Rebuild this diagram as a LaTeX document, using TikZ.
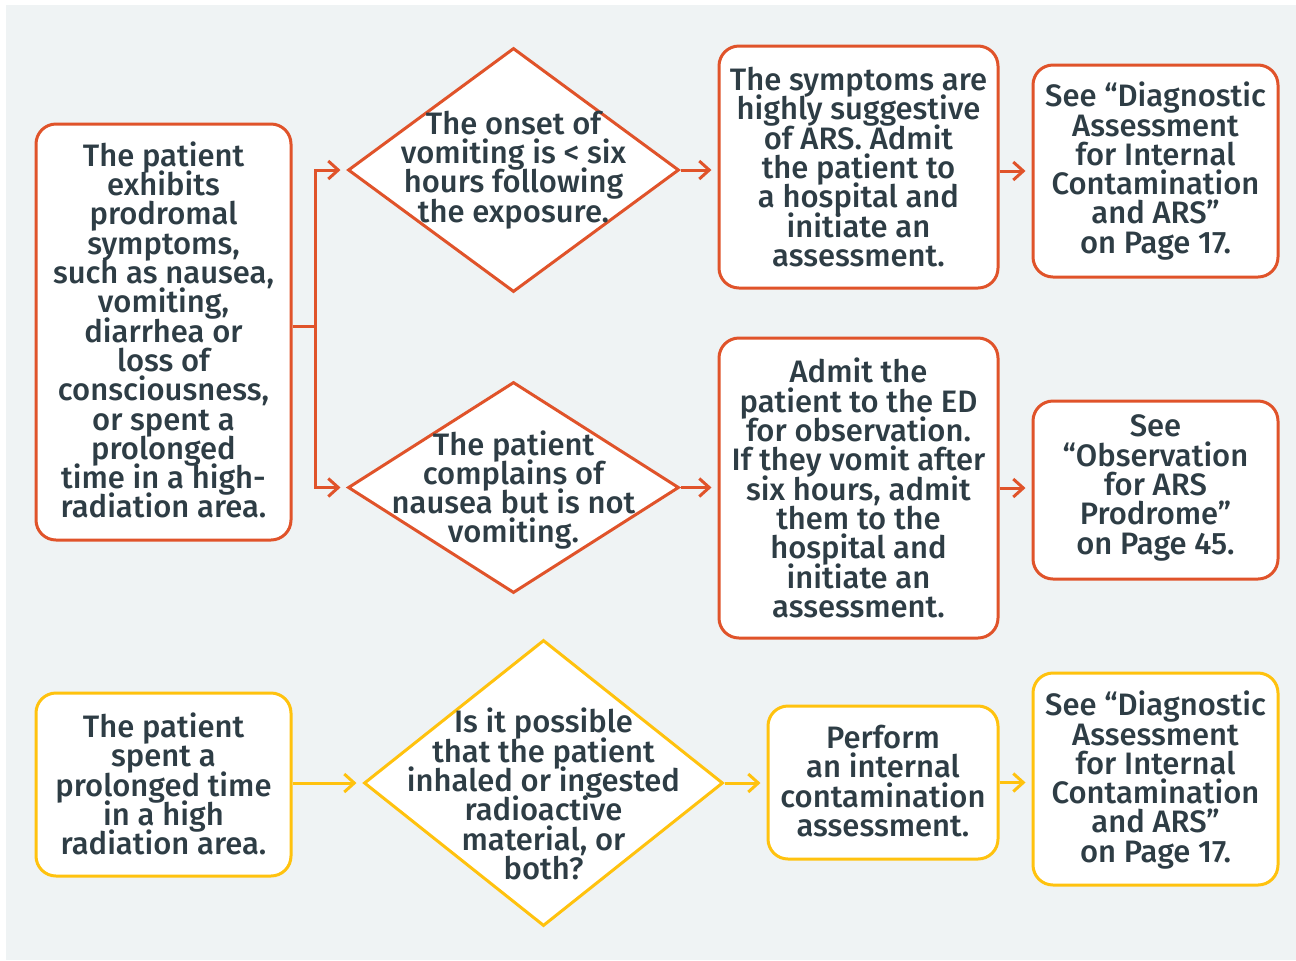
\documentclass[tikz,border=0pt]{standalone}
\usepackage{fontspec}
\setmainfont{Fira Sans}[UprightFont=* Medium]
\usetikzlibrary{arrows.meta,shapes.geometric}
\definecolor{rust}{HTML}{E0532A}
\definecolor{amber}{HTML}{FFC20E}
\definecolor{slate}{HTML}{2E3D45}
\definecolor{paper}{HTML}{EFF3F4}

\begin{document}
\begin{tikzpicture}[x=0.5pt,y=-0.5pt,
    >={Straight Barb[length=5pt,width=9pt]},
    every node/.style={text=slate,align=center,
      font=\fontsize{15.5}{14.65}\selectfont,
      execute at begin node={\lineskiplimit=-100pt\relax}},
    card/.style={draw,line width=1.5pt,rounded corners=10pt,fill=white,inner sep=0pt},
    decision/.style={diamond,draw,line width=1.5pt,fill=white,inner sep=0pt},
    link/.style={->,line width=1.5pt,shorten >=3pt}]

  \useasboundingbox (0,0) rectangle (1296,960);
  \fill[paper] (6,5) rectangle (1296,960);

  % vomiting / nausea branch
  \begin{scope}[draw=rust]
    \node[card,minimum width=127.5pt,minimum height=208pt]   (pro)  at (163.5,332) {};
    \node[decision,minimum width=165.5pt,minimum height=122pt] (onset) at (513.5,170) {};
    \node[decision,minimum width=165.5pt,minimum height=105.5pt] (naus) at (513.5,487.5) {};
    \node[card,minimum width=139.5pt,minimum height=121pt]   (admit) at (858.5,167) {};
    \node[card,minimum width=139.5pt,minimum height=150pt]   (obs)   at (858.5,488) {};
    \node[card,minimum width=122.5pt,minimum height=106pt]   (diag)  at (1155.5,171) {};
    \node[card,minimum width=122.5pt,minimum height=89pt]    (prod)  at (1155.5,490) {};

    \node at (163.5,330) {The patient\\exhibits\\prodromal\\symptoms,\\such as nausea,\\vomiting,\\diarrhea or\\loss of\\consciousness,\\or spent a\\prolonged\\time in a high-\\radiation area.};
    \node at (513.5,170) {The onset of\\vomiting is < six\\hours following\\the exposure.};
    \node at (513.5,490) {The patient\\complains of\\nausea but is not\\vomiting.};
    \node at (858.5,167) {The symptoms are\\highly suggestive\\of ARS. Admit\\the patient to\\a hospital and\\initiate an\\assessment.};
    \node at (858.5,488) {Admit the\\patient to the ED\\for observation.\\If they vomit after\\six hours, admit\\them to the\\hospital and\\initiate an\\assessment.};
    \node at (1155.5,171) {See “Diagnostic\\Assessment\\for Internal\\Contamination\\and ARS”\\on Page 17.};
    \node at (1155.5,488) {See\\“Observation\\for ARS\\Prodrome”\\on Page 45.};

    \coordinate (split) at (315,326);
    \draw[line width=1.5pt,rust] (pro.east |- split) -- (split);
    \draw[link,rust] (split) |- (onset.west);
    \draw[link,rust] (split) |- (naus.west);
    \draw[link,rust] (onset.east) -- (onset.east -| admit.west);
    \draw[link,rust] (naus.east) -- (naus.east -| obs.west);
    \draw[link,rust] (diag.west -| admit.east) -- (diag.west);
    \draw[link,rust] (obs.east) -- (obs.east -| prod.west);
  \end{scope}

  % internal contamination branch
  \begin{scope}[draw=amber]
    \node[card,minimum width=127.5pt,minimum height=91.5pt]  (spent) at (163.5,784.5) {};
    \node[decision,minimum width=179.5pt,minimum height=143pt] (inhal) at (543.5,783) {};
    \node[card,minimum width=115pt,minimum height=76.5pt]    (perf)  at (883,782.5) {};
    \node[card,minimum width=122.5pt,minimum height=106pt]   (diag2) at (1155.5,779) {};

    \node at (163.5,784) {The patient\\spent a\\prolonged time\\in a high\\radiation area.};
    \node at (543.5,794) {Is it possible\\that the patient\\inhaled or ingested\\radioactive\\material, or\\both?};
    \node at (883,781) {Perform\\an internal\\contamination\\assessment.};
    \node at (1155.5,780) {See “Diagnostic\\Assessment\\for Internal\\Contamination\\and ARS”\\on Page 17.};

    \draw[link,amber] (inhal.west -| spent.east) -- (inhal.west);
    \draw[link,amber] (inhal.east) -- (inhal.east -| perf.west);
    \draw[link,amber] (perf.east) -- (perf.east -| diag2.west);
  \end{scope}
\end{tikzpicture}
\end{document}
